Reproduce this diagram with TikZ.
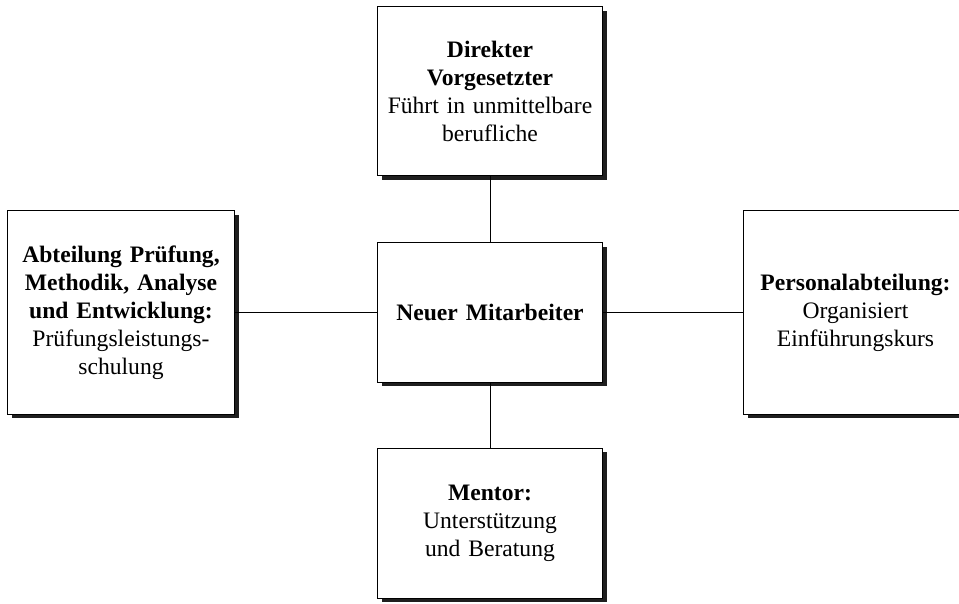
\documentclass[tikz,border=0pt]{standalone}
\usepackage{fontspec}
\setmainfont{Liberation Serif}
\usetikzlibrary{positioning,shadows}

\begin{document}
\begin{tikzpicture}[x=1pt, y=1pt, auto,
	box/.style={draw, line width=1pt, fill=white, align=center, inner sep=0pt,
		minimum width=225pt, text width=218pt,
		font=\fontsize{23.6}{28}\selectfont,
		drop shadow={shadow xshift=4pt, shadow yshift=-4pt, opacity=1, fill=black!88}}]
	\useasboundingbox (0,0) rectangle (959,-604);

	% Nodes {Neuer Mitarbeiter, Vorgesetzter, Mentor, Abteilung, Personal}
	\node [box, minimum height=139pt]	(neu)	at (490,-312.5)			{\textbf{Neuer Mitarbeiter}};
	\node [box, minimum height=169pt]	(vorg)	[above=66pt of neu]		{\textbf{Direkter}\\\textbf{Vorgesetzter}\\Führt in unmittelbare\\berufliche};
	\node [box, minimum height=150pt]	(ment)	[below=65pt of neu]		{\textbf{Mentor:}\\Unterstützung\\und Beratung};
	\node [box, minimum height=203pt, minimum width=227pt]	(abt)	[left=142pt of neu]	{\textbf{Abteilung Prüfung,}\\\textbf{Methodik, Analyse}\\\textbf{und Entwicklung:}\\Prüfungsleistungs-\\schulung};
	\node [box, minimum height=203pt, minimum width=224pt]	(pers)	[right=140pt of neu]	{\textbf{Personalabteilung:}\\Organisiert\\Einführungskurs};

	% Paths {(vorg,neu), (neu,ment), (abt,neu), (neu,pers)}
	\path [-, line width=0.8pt]	(vorg) edge (neu)
				(neu) edge (ment)
				(abt) edge (neu)
				(neu) edge (pers);
\end{tikzpicture}
\end{document}
